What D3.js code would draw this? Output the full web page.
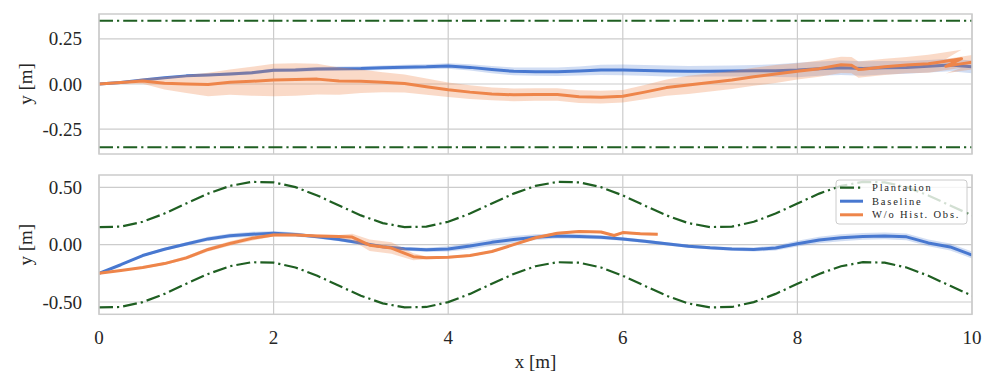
<!DOCTYPE html>
<html>
<head>
<meta charset="utf-8">
<script src="https://cdn.jsdelivr.net/npm/d3@7"></script>
<style>
  body { margin: 0; background: #fff; }
  text { font-family: 'Liberation Serif', serif; fill: #262626; }
  .tick-label { font-size: 19px; }
  .axis-title { font-size: 19px; }
  .legend-text { font-size: 10.5px; letter-spacing: 1.8px; }
</style>
</head>
<body>
<div id="chart"></div>
<script>
const width = 996, height = 390;
const blue = '#4878d0', orange = '#ee854a', green = '#1f5f22', gridGray = '#cccccc';
const dashDot = '14,4,2.2,4';

// x samples every 0.25 m
const grid = d3.range(0, 10.001, 0.25);

// top panel: straight row
const rowTopX = [0, 10];
const rowTopUpper = [0.35, 0.35];
const rowTopLower = [-0.35, -0.35];

const baseTopY = [0, .008, .022, .035, .045, .05, .055, .062, .076, .078, .083, .085, .086, .09, .093, .095,
  .1, .092, .08, .07, .068, .068, .072, .078, .078, .075, .072, .07, .071, .072, .073, .074, .077, .085,
  .09, .086, .09, .092, .098, .105, .095];
const baseTopSd = [.002, .003, .004, .005, .006, .007, .008, .009, .01, .01, .011, .012, .012, .013, .013,
  .014, .015, .017, .02, .022, .023, .024, .025, .028, .03, .03, .03, .03, .03, .03, .032, .035, .04, .04,
  .04, .04, .038, .035, .035, .035, .035];

const woTopX = [0, .25, .5, .75, 1, 1.25, 1.5, 1.75, 2, 2.25, 2.5, 2.75, 3, 3.25, 3.5, 3.75, 4, 4.25, 4.5,
  4.75, 5, 5.25, 5.5, 5.75, 6, 6.25, 6.5, 6.75, 7, 7.25, 7.5, 7.75, 8, 8.25, 8.5, 8.62, 8.7, 8.75, 9, 9.25,
  9.5, 9.62, 9.75, 9.88, 9.7, 9.85, 10];
const woTopY = [0, .008, .016, .004, 0, -.003, .01, .015, .022, .025, .027, .016, .015, .01, .003, -.015,
  -.032, -.045, -.055, -.06, -.058, -.058, -.07, -.073, -.068, -.045, -.02, -.005, .008, .022, .04, .055,
  .07, .085, .106, .104, .08, .082, .095, .105, .112, .12, .13, .14, .098, .11, .12];
const woTopSd = [0, .005, .015, .035, .05, .065, .07, .08, .09, .09, .085, .075, .065, .055, .05, .045, .04,
  .038, .035, .035, .035, .035, .035, .035, .035, .04, .045, .05, .05, .05, .05, .05, .045, .045, .045,
  .045, .045, .045, .045, .045, .05, .05, .05, .05, .04, .04, .04];

// bottom panel: wavy row
const rowBotUpper = [.153, .157, .199, .271, .359, .445, .512, .547, .543, .501, .429, .341, .255, .188,
  .153, .157, .199, .271, .359, .445, .512, .547, .543, .501, .429, .341, .255, .188,
  .153, .157, .199, .271, .359, .445, .512, .547, .543, .501, .429, .341, .255];
const rowBotLower = [-.547, -.543, -.501, -.429, -.341, -.255, -.188, -.153, -.157, -.199, -.271, -.359, -.445, -.512,
  -.547, -.543, -.501, -.429, -.341, -.255, -.188, -.153, -.157, -.199, -.271, -.359, -.445, -.512,
  -.547, -.543, -.501, -.429, -.341, -.255, -.188, -.153, -.157, -.199, -.271, -.359, -.445];

const baseBotY = [-.25, -.175, -.095, -.04, .005, .05, .078, .09, .1, .088, .068, .045, .015, -.018, -.035,
  -.045, -.037, -.012, .02, .045, .065, .075, .072, .065, .05, .03, .007, -.013, -.028, -.038, -.042, -.03,
  .008, .04, .06, .072, .076, .068, .015, -.02, -.09];
const baseBotSd = [.005, .008, .01, .012, .015, .018, .02, .022, .02, .018, .015, .015, .015, .015, .015,
  .018, .022, .028, .03, .03, .025, .022, .02, .018, .015, .015, .015, .015, .015, .015, .018, .022, .025,
  .028, .03, .03, .03, .03, .03, .03, .03];

const woBotX = [0, .25, .5, .75, 1, 1.25, 1.5, 1.75, 2, 2.25, 2.5, 2.75, 2.9, 3.1, 3.35, 3.6, 3.75, 4, 4.25,
  4.5, 4.75, 5, 5.25, 5.5, 5.75, 5.9, 6, 6.2, 6.4];
const woBotY = [-.25, -.225, -.2, -.165, -.115, -.042, .01, .055, .085, .085, .076, .07, .066, -.005, -.03,
  -.105, -.115, -.11, -.095, -.06, 0, .06, .1, .115, .11, .08, .105, .095, .09];
const woBotSd = [0, .005, .01, .012, .015, .018, .02, .02, .015, .012, .012, .015, .03, .05, .05, .03, .012,
  .01, .01, .01, .01, .01, .01, .01, .01, .01, .01, .01, .01];

const xTicks = [0, 2, 4, 6, 8, 10];
const yTicksTop = [-0.25, 0, 0.25];
const yTicksBot = [-0.5, 0, 0.5];
const legendLabels = ['Plantation', 'Baseline', 'W/o Hist. Obs.'];

const zip = (xs, ys, sd) => xs.map((x, i) => ({ x: x, y: ys[i], sd: sd ? sd[i] : 0 }));

const svg = d3.select('#chart').append('svg')
  .attr('width', width)
  .attr('height', height);

const xScale = d3.scaleLinear().domain([0, 10]).range([99, 972]);

function panel(id, y0, y1, ylim, yTicks, showX) {
  const yScale = d3.scaleLinear().domain([-ylim, ylim]).range([y1, y0]);
  const g = svg.append('g');

  svg.append('clipPath').attr('id', id)
    .append('rect')
    .attr('x', 99).attr('y', y0)
    .attr('width', 873).attr('height', y1 - y0);

  // grid
  g.selectAll('line.gx').data(xTicks).enter().append('line')
    .attr('x1', d => xScale(d)).attr('x2', d => xScale(d))
    .attr('y1', y0).attr('y2', y1)
    .attr('stroke', gridGray).attr('stroke-width', 1.2);
  g.selectAll('line.gy').data(yTicks).enter().append('line')
    .attr('x1', 99).attr('x2', 972)
    .attr('y1', d => yScale(d)).attr('y2', d => yScale(d))
    .attr('stroke', gridGray).attr('stroke-width', 1.2);

  // tick labels
  g.selectAll('text.yt').data(yTicks).enter().append('text')
    .attr('class', 'tick-label')
    .attr('x', 82).attr('y', d => yScale(d))
    .attr('dy', '0.35em')
    .attr('text-anchor', 'end')
    .text(d => d3.format('.2f')(d).replace('−', '-'));

  if (showX) {
    g.selectAll('text.xt').data(xTicks).enter().append('text')
      .attr('class', 'tick-label')
      .attr('x', d => xScale(d)).attr('y', y1 + 30)
      .attr('text-anchor', 'middle')
      .text(d => d);
  }

  g.append('text')
    .attr('class', 'axis-title')
    .attr('transform', 'translate(32,' + ((y0 + y1) / 2) + ') rotate(-90)')
    .attr('text-anchor', 'middle')
    .text('y [m]');

  const plot = svg.append('g').attr('clip-path', 'url(#' + id + ')');

  // frame
  svg.append('rect')
    .attr('x', 99).attr('y', y0)
    .attr('width', 873).attr('height', y1 - y0)
    .attr('fill', 'none')
    .attr('stroke', gridGray).attr('stroke-width', 1.5);

  const line = d3.line().x(d => xScale(d.x)).y(d => yScale(d.y));
  const area = d3.area().x(d => xScale(d.x))
    .y0(d => yScale(d.y - d.sd)).y1(d => yScale(d.y + d.sd));

  return { plot: plot, line: line, area: area };
}

function series(p, data, color, bandOpacity) {
  p.plot.append('path').datum(data)
    .attr('d', p.area)
    .attr('fill', color).attr('fill-opacity', bandOpacity);
  p.plot.append('path').datum(data)
    .attr('d', p.line)
    .attr('fill', 'none')
    .attr('stroke', color).attr('stroke-width', 3)
    .attr('stroke-linejoin', 'round');
}

function row(p, data) {
  p.plot.append('path').datum(data)
    .attr('d', p.line)
    .attr('fill', 'none')
    .attr('stroke', green).attr('stroke-width', 2.2)
    .attr('stroke-dasharray', dashDot);
}

// top panel
const topPanel = panel('clipTop', 14, 154, 0.3875, yTicksTop, false);
row(topPanel, zip(rowTopX, rowTopUpper));
row(topPanel, zip(rowTopX, rowTopLower));
series(topPanel, zip(grid, baseTopY, baseTopSd), blue, 0.25);
series(topPanel, zip(woTopX, woTopY, woTopSd), orange, 0.3);

// bottom panel
const botPanel = panel('clipBot', 175, 314.3, 0.607, yTicksBot, true);
row(botPanel, zip(grid, rowBotUpper));
row(botPanel, zip(grid, rowBotLower));
series(botPanel, zip(grid, baseBotY, baseBotSd), blue, 0.25);
series(botPanel, zip(woBotX, woBotY, woBotSd), orange, 0.3);

svg.append('text')
  .attr('class', 'axis-title')
  .attr('x', 535.5).attr('y', 368)
  .attr('text-anchor', 'middle')
  .text('x [m]');

// legend
const legend = svg.append('g').attr('class', 'legend');
legend.append('rect')
  .attr('x', 836).attr('y', 180)
  .attr('width', 131).attr('height', 44)
  .attr('rx', 3)
  .attr('fill', 'white').attr('fill-opacity', 0.8)
  .attr('stroke', gridGray).attr('stroke-width', 1);

const legendColors = [green, blue, orange];
const legendRows = [187.7, 201.2, 214.8];
legend.selectAll('line.item').data(legendLabels).enter().append('line')
  .attr('x1', 840).attr('x2', 863)
  .attr('y1', (d, i) => legendRows[i]).attr('y2', (d, i) => legendRows[i])
  .attr('stroke', (d, i) => legendColors[i])
  .attr('stroke-width', (d, i) => i === 0 ? 2.2 : 3)
  .attr('stroke-dasharray', (d, i) => i === 0 ? dashDot : null);
legend.selectAll('text.item').data(legendLabels).enter().append('text')
  .attr('class', 'legend-text')
  .attr('x', 872)
  .attr('y', (d, i) => legendRows[i] + 3.5)
  .text(d => d);
</script>
</body>
</html>
